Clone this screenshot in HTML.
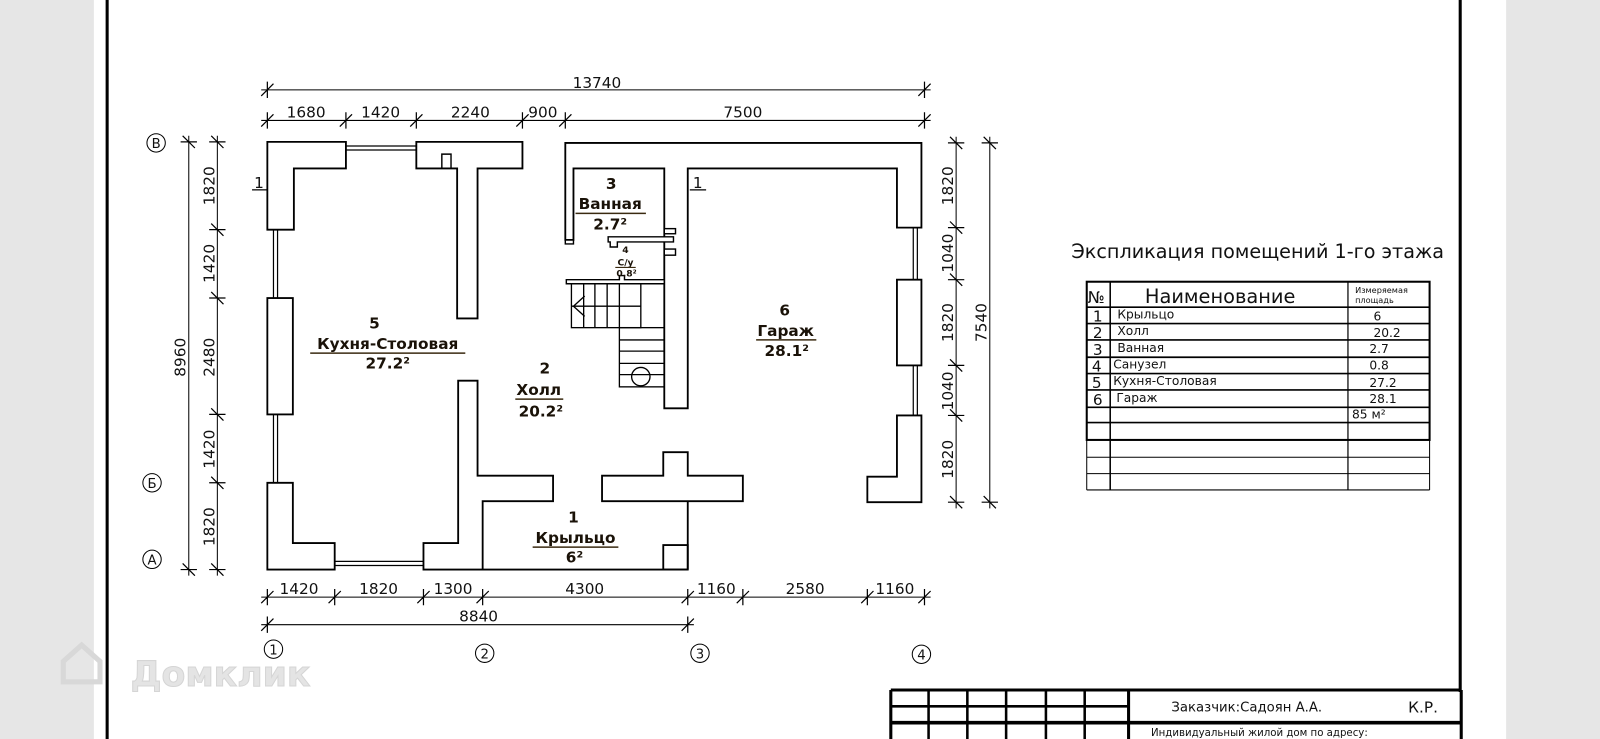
<!DOCTYPE html>
<html><head><meta charset="utf-8"><style>
html,body{margin:0;padding:0;background:#e6e6e6;}
svg{display:block;}
text{font-family:"DejaVu Sans","Liberation Sans",sans-serif;}
.d{font-family:"DejaVu Sans","Liberation Sans",sans-serif;font-size:15px;fill:#111;}
.r{font-family:"DejaVu Sans","Liberation Sans",sans-serif;font-weight:bold;font-size:15px;fill:#1a1208;text-anchor:middle;}
</style></head><body>
<svg width="1600" height="739" viewBox="0 0 1568 724" preserveAspectRatio="none" xmlns="http://www.w3.org/2000/svg">
<rect x="0" y="0" width="1568" height="724" fill="#e6e6e6"/>
<rect x="92" y="0" width="1384" height="724" fill="#fff"/>
<line x1="105" y1="0" x2="105" y2="724" stroke="#000" stroke-width="3"/>
<line x1="1431" y1="0" x2="1431" y2="678" stroke="#000" stroke-width="3"/>

<g fill="#e2e2e2" stroke="#cfcfcf" stroke-width="1">
<path d="M62 668 L62 648 L80 632 L98 648 L98 668 Z" fill="none" stroke="#d8d8d8" stroke-width="5"/>
<text x="128" y="672" font-size="34" font-weight="bold" fill="#e4e4e4" stroke="#d5d5d5">Домклик</text>
</g>

<g stroke="#000" stroke-width="1.8" fill="#fff" stroke-linejoin="miter">
<polygon points="262,139 339,139 339,165 288,165 288,225 262,225"/>
<line x1="339" y1="143" x2="408" y2="143" stroke-width="1.2"/>
<line x1="339" y1="147" x2="408" y2="147" stroke-width="1.2"/>
<polygon points="408,139 512,139 512,165 468,165 468,312 448,312 448,165 408,165"/>
<polyline points="433,165 433,151 442,151 442,165" fill="none" stroke-width="1.4"/>
<line x1="268" y1="225" x2="268" y2="292" stroke-width="1.2"/>
<line x1="272" y1="225" x2="272" y2="292" stroke-width="1.2"/>
<rect x="262" y="292" width="25" height="114"/>
<line x1="268" y1="406" x2="268" y2="473" stroke-width="1.2"/>
<line x1="272" y1="406" x2="272" y2="473" stroke-width="1.2"/>
<polygon points="262,473 287,473 287,532 328,532 328,558 262,558"/>
<line x1="328" y1="550" x2="415" y2="550" stroke-width="1.2"/>
<line x1="328" y1="554" x2="415" y2="554" stroke-width="1.2"/>
<polygon points="415,532 449,532 449,373 468,373 468,466 542,466 542,491 473,491 473,558 415,558"/>
<line x1="473" y1="558" x2="674" y2="558"/>
<line x1="674" y1="491" x2="674" y2="558"/>
<rect x="650" y="534" width="24" height="24" fill="none"/>
<polygon points="590,466 650,466 650,443 674,443 674,466 728,466 728,491 590,491"/>
<polygon points="554,140 903,140 903,223 879,223 879,165 674,165 674,400 651,400 651,165 562,165 562,235 554,235"/>
<line x1="895" y1="223" x2="895" y2="274" stroke-width="1.2"/>
<line x1="899" y1="223" x2="899" y2="274" stroke-width="1.2"/>
<rect x="879" y="274" width="24" height="84"/>
<line x1="895" y1="358" x2="895" y2="407" stroke-width="1.2"/>
<line x1="899" y1="358" x2="899" y2="407" stroke-width="1.2"/>
<polygon points="879,407 903,407 903,492 850,492 850,467 879,467"/>
<polyline points="554,235 554,239 562,239 562,235" fill="none" stroke-width="1.4"/>
<polygon points="596,232 660,232 660,237 605,237 605,242 598,242 598,237 596,237" stroke-width="1.4"/>
<rect x="651" y="224" width="11" height="5" stroke-width="1.4"/>
<rect x="651" y="244" width="11" height="6" stroke-width="1.4"/>
<polygon points="555,274 607,274 607,270 612,270 612,274 651,274 651,278 555,278" stroke-width="1.4"/>
</g>

<g stroke="#000" stroke-width="1.3" fill="none">
<rect x="560" y="278" width="68" height="43"/>
<line x1="572" y1="278" x2="572" y2="321"/>
<line x1="583" y1="278" x2="583" y2="321"/>
<line x1="595" y1="278" x2="595" y2="321"/>
<line x1="607" y1="278" x2="607" y2="321"/>
<line x1="560" y1="300" x2="628" y2="300"/>
<polyline points="573,290 562,300 573,310"/>
<rect x="607" y="321" width="44" height="58"/>
<line x1="607" y1="333" x2="651" y2="333"/>
<line x1="607" y1="344" x2="651" y2="344"/>
<line x1="607" y1="356" x2="651" y2="356"/>
<line x1="607" y1="367" x2="651" y2="367"/>
<circle cx="628" cy="369" r="9"/>
</g>

<g stroke="#000" stroke-width="1.2">
<line x1="247" y1="186" x2="262" y2="186"/>
<line x1="676" y1="186" x2="692" y2="186"/>
</g>
<text x="249" y="184" font-size="15" fill="#111">1</text>
<text x="679" y="184" font-size="15" fill="#111">1</text>

<text class="r" x="367" y="322">5</text>
<text class="r" x="380" y="342">Кухня-Столовая</text>
<line x1="304" y1="346" x2="456" y2="346" stroke="#3a2a10" stroke-width="1.5"/>
<text class="r" x="380" y="361">27.2²</text>
<text class="r" x="534" y="366">2</text>
<text class="r" x="528" y="387">Холл</text>
<line x1="505" y1="391" x2="552" y2="391" stroke="#3a2a10" stroke-width="1.5"/>
<text class="r" x="530" y="408">20.2²</text>
<text class="r" x="599" y="185">3</text>
<text class="r" x="598" y="205">Ванная</text>
<line x1="564" y1="209" x2="633" y2="209" stroke="#3a2a10" stroke-width="1.5"/>
<text class="r" x="598" y="225">2.7²</text>
<text class="r" x="613" y="248" style="font-size:9px">4</text>
<text class="r" x="613" y="260" style="font-size:9px">С/у</text>
<line x1="603" y1="262" x2="623" y2="262" stroke="#3a2a10" stroke-width="1"/>
<text class="r" x="614" y="271" style="font-size:9px">0.8²</text>
<text class="r" x="769" y="309">6</text>
<text class="r" x="770" y="329">Гараж</text>
<line x1="741" y1="333" x2="800" y2="333" stroke="#3a2a10" stroke-width="1.5"/>
<text class="r" x="771" y="349">28.1²</text>
<text class="r" x="562" y="512">1</text>
<text class="r" x="564" y="532">Крыльцо</text>
<line x1="522" y1="536" x2="606" y2="536" stroke="#3a2a10" stroke-width="1.5"/>
<text class="r" x="563" y="551">6²</text>

<g stroke="#000" stroke-width="1">
<line x1="256" y1="88" x2="912" y2="88"/>
<line x1="256" y1="118" x2="912" y2="118"/>
<line x1="256" y1="585" x2="912" y2="585"/>
<line x1="256" y1="612" x2="680" y2="612"/>
<line x1="185" y1="133" x2="185" y2="564"/>
<line x1="213" y1="133" x2="213" y2="564"/>
<line x1="937" y1="134" x2="937" y2="498"/>
<line x1="970" y1="134" x2="970" y2="498"/>
</g>
<g stroke="#000" stroke-width="1.2">
<path d="M262 80v16M256 94l12-12 M906 80v16M900 94l12-12"/>
<path d="M262 110v16M256 124l12-12 M339 110v16M333 124l12-12 M408 110v16M402 124l12-12 M512 110v16M506 124l12-12 M554 110v16M548 124l12-12 M906 110v16M900 124l12-12"/>
<path d="M262 577v16M256 591l12-12 M328 577v16M322 591l12-12 M415 577v16M409 591l12-12 M473 577v16M467 591l12-12 M674 577v16M668 591l12-12 M728 577v16M722 591l12-12 M850 577v16M844 591l12-12 M906 577v16M900 591l12-12"/>
<path d="M262 604v16M256 618l12-12 M674 604v16M668 618l12-12"/>
<path d="M177 139h16M179 133l12 12 M177 558h16M179 552l12 12"/>
<path d="M205 139h16M207 133l12 12 M205 225h16M207 219l12 12 M205 292h16M207 286l12 12 M205 406h16M207 400l12 12 M205 473h16M207 467l12 12 M205 558h16M207 552l12 12"/>
<path d="M929 140h16M931 134l12 12 M929 223h16M931 217l12 12 M929 274h16M931 268l12 12 M929 358h16M931 352l12 12 M929 407h16M931 401l12 12 M929 492h16M931 486l12 12"/>
<path d="M962 140h16M964 134l12 12 M962 492h16M964 486l12 12"/>
</g>
<g>
<text class="d" x="585" y="86" text-anchor="middle">13740</text>
<text class="d" x="300" y="115" text-anchor="middle">1680</text>
<text class="d" x="373" y="115" text-anchor="middle">1420</text>
<text class="d" x="461" y="115" text-anchor="middle">2240</text>
<text class="d" x="532" y="115" text-anchor="middle">900</text>
<text class="d" x="728" y="115" text-anchor="middle">7500</text>
<text class="d" x="293" y="582" text-anchor="middle">1420</text>
<text class="d" x="371" y="582" text-anchor="middle">1820</text>
<text class="d" x="444" y="582" text-anchor="middle">1300</text>
<text class="d" x="573" y="582" text-anchor="middle">4300</text>
<text class="d" x="702" y="582" text-anchor="middle">1160</text>
<text class="d" x="789" y="582" text-anchor="middle">2580</text>
<text class="d" x="877" y="582" text-anchor="middle">1160</text>
<text class="d" x="469" y="609" text-anchor="middle">8840</text>
<text class="d" text-anchor="middle" transform="translate(182,350) rotate(-90)">8960</text>
<text class="d" text-anchor="middle" transform="translate(210,182) rotate(-90)">1820</text>
<text class="d" text-anchor="middle" transform="translate(210,258) rotate(-90)">1420</text>
<text class="d" text-anchor="middle" transform="translate(210,350) rotate(-90)">2480</text>
<text class="d" text-anchor="middle" transform="translate(210,440) rotate(-90)">1420</text>
<text class="d" text-anchor="middle" transform="translate(210,516) rotate(-90)">1820</text>
<text class="d" text-anchor="middle" transform="translate(934,182) rotate(-90)">1820</text>
<text class="d" text-anchor="middle" transform="translate(934,248) rotate(-90)">1040</text>
<text class="d" text-anchor="middle" transform="translate(934,316) rotate(-90)">1820</text>
<text class="d" text-anchor="middle" transform="translate(934,383) rotate(-90)">1040</text>
<text class="d" text-anchor="middle" transform="translate(934,450) rotate(-90)">1820</text>
<text class="d" text-anchor="middle" transform="translate(967,316) rotate(-90)">7540</text>
</g>

<g stroke="#000" stroke-width="1" fill="none">
<circle cx="268" cy="636" r="9"/><circle cx="475" cy="640" r="9"/><circle cx="686" cy="640" r="9"/><circle cx="903" cy="641" r="9"/>
<circle cx="153" cy="140" r="9"/><circle cx="149" cy="473" r="9"/><circle cx="149" cy="548" r="9"/>
</g>
<g font-size="13" text-anchor="middle" fill="#111">
<text x="268" y="641">1</text><text x="475" y="645">2</text><text x="686" y="645">3</text><text x="903" y="646">4</text>
<text x="153" y="145">В</text><text x="149" y="478">Б</text><text x="149" y="553">А</text>
</g>

<text x="1050" y="253" font-size="18.8" fill="#111">Экспликация помещений 1-го этажа</text>
<g stroke="#000" fill="none">
<rect x="1065" y="276" width="336" height="155" stroke-width="2"/>
<line x1="1065" y1="431" x2="1065" y2="480" stroke-width="1"/>
<line x1="1401" y1="431" x2="1401" y2="480" stroke-width="1"/>
<line x1="1088" y1="276" x2="1088" y2="480" stroke-width="1.5"/>
<line x1="1321" y1="276" x2="1321" y2="480" stroke-width="1.2"/>
<g stroke-width="1.6">
<line x1="1065" y1="301" x2="1401" y2="301"/><line x1="1065" y1="317" x2="1401" y2="317"/>
<line x1="1065" y1="333" x2="1401" y2="333"/><line x1="1065" y1="350" x2="1401" y2="350"/>
<line x1="1065" y1="366" x2="1401" y2="366"/><line x1="1065" y1="382" x2="1401" y2="382"/>
<line x1="1065" y1="399" x2="1401" y2="399"/><line x1="1065" y1="414" x2="1401" y2="414"/>
</g>
<g stroke-width="1">
<line x1="1065" y1="448" x2="1401" y2="448"/><line x1="1065" y1="464" x2="1401" y2="464"/><line x1="1065" y1="480" x2="1401" y2="480"/>
</g>
</g>
<g fill="#111" font-size="12">
<text x="1066" y="297" font-size="16">№</text>
<text x="1122" y="297" font-size="19">Наименование</text>
<text x="1328" y="287" font-size="8">Измеряемая</text>
<text x="1328" y="297" font-size="8">площадь</text>
<g font-size="15"><text x="1071" y="315">1</text><text x="1071" y="331">2</text><text x="1071" y="348">3</text><text x="1070" y="364">4</text><text x="1070" y="380">5</text><text x="1071" y="397">6</text></g>
<text x="1095" y="312">Крыльцо</text><text x="1095" y="328">Холл</text><text x="1095" y="345">Ванная</text>
<text x="1091" y="361">Санузел</text><text x="1091" y="377">Кухня-Столовая</text><text x="1094" y="394">Гараж</text>
<text x="1346" y="314">6</text><text x="1346" y="330">20.2</text><text x="1342" y="346">2.7</text><text x="1342" y="362">0.8</text>
<text x="1342" y="379">27.2</text><text x="1342" y="395">28.1</text><text x="1325" y="410">85 м²</text>
</g>

<g stroke="#000" fill="none">
<path d="M873 676H1432M873 676V724M1432 676V724" stroke-width="3"/>
<line x1="873" y1="708" x2="1432" y2="708" stroke-width="3.5"/>
<line x1="873" y1="692" x2="1106" y2="692" stroke-width="2.5"/>
<line x1="1106" y1="676" x2="1106" y2="724" stroke-width="3"/>
<g stroke-width="2.5">
<line x1="910" y1="676" x2="910" y2="724"/><line x1="948" y1="676" x2="948" y2="724"/>
<line x1="986" y1="676" x2="986" y2="724"/><line x1="1025" y1="676" x2="1025" y2="724"/>
<line x1="1063" y1="676" x2="1063" y2="724"/>
</g>
</g>
<text x="1148" y="697" font-size="13" fill="#111">Заказчик:Садоян А.А.</text>
<text x="1380" y="698" font-size="15" fill="#111">К.Р.</text>
<text x="1128" y="721" font-size="10" fill="#111">Индивидуальный жилой дом по адресу:</text>
</svg>
</body></html>
